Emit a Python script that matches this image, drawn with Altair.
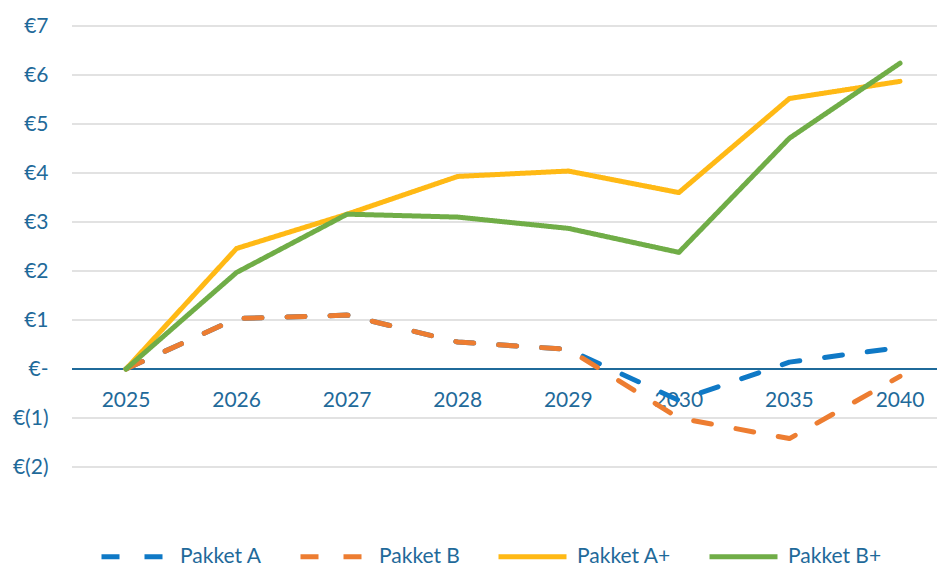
import altair as alt
import pandas as pd

years = ["2025", "2026", "2027", "2028", "2029", "2030", "2035", "2040"]
series_names = ["Pakket A", "Pakket B", "Pakket A+", "Pakket B+"]
pakket_a = [0.0, 1.03, 1.10, 0.55, 0.40, -0.64, 0.14, 0.44]
pakket_b = [0.0, 1.03, 1.10, 0.55, 0.40, -1.00, -1.42, -0.15]
pakket_a_plus = [0.0, 2.46, 3.16, 3.93, 4.04, 3.60, 5.52, 5.87]
pakket_b_plus = [0.0, 1.97, 3.16, 3.10, 2.87, 2.38, 4.71, 6.24]
y_ticks = [-2, -1, 0, 1, 2, 3, 4, 5, 6, 7]

colors = ["#0F79C6", "#ED7D31", "#FFB915", "#70AD47"]
dashes = [[18, 25], [18, 25], [1, 0], [1, 0]]
TEXT = "#1F6A9A"
FONT = "Lato"
FS = 21

rows = []
for name, vals in zip(series_names, [pakket_a, pakket_b, pakket_a_plus, pakket_b_plus]):
    for yr, v in zip(years, vals):
        rows.append({"jaar": yr, "waarde": v, "serie": name})
df = pd.DataFrame(rows)
df_years = pd.DataFrame({"jaar": years})
df_ticks = pd.DataFrame({"t": [t for t in y_ticks if t != 0]})

x_scale = alt.Scale(type="point", domain=years, range=[54, 828], padding=0)
y_scale = alt.Scale(domain=[-2, 7], nice=False)

label_expr = ("datum.value == 0 ? '€-' : (datum.value < 0 ? '€(' + abs(datum.value) + ')' : '€' + datum.value)")

grid = alt.Chart(df_ticks).mark_rule(color="#D9D9D9", strokeWidth=1.5).encode(
    x=alt.value(0), x2=alt.value(865),
    y=alt.Y("t:Q", scale=y_scale,
            axis=alt.Axis(values=y_ticks, labelExpr=label_expr, title=None,
                          domain=False, ticks=False, grid=False,
                          labelFont=FONT, labelFontSize=FS,
                          labelColor=TEXT, labelPadding=24)),
)

zero = alt.Chart(df_years).mark_rule(color=TEXT, strokeWidth=2).encode(
    x=alt.value(0), x2=alt.value(865), y=alt.Y("z:Q", scale=y_scale)
).transform_calculate(z="0")

labels = alt.Chart(df_years).mark_text(font=FONT, fontSize=FS, color=TEXT, dy=32, baseline="middle").encode(
    x=alt.X("jaar:O", scale=x_scale, axis=None),
    y=alt.Y("z:Q", scale=y_scale),
    text="jaar:N",
).transform_calculate(z="0")

leg = alt.Legend(title=None, orient="none", direction="horizontal",
                 legendX=27, legendY=494, symbolType="stroke",
                 symbolStrokeWidth=5, symbolSize=4624,
                 labelFont=FONT, labelFontSize=FS, labelColor=TEXT,
                 labelOffset=8, columnPadding=28, padding=0)

lines = alt.Chart(df).mark_line(strokeWidth=5, strokeCap="round", strokeJoin="round").encode(
    x=alt.X("jaar:O", scale=x_scale, axis=None),
    y=alt.Y("waarde:Q", scale=y_scale),
    color=alt.Color("serie:N", scale=alt.Scale(domain=series_names, range=colors), legend=leg),
    strokeDash=alt.StrokeDash("serie:N", scale=alt.Scale(domain=series_names, range=dashes), legend=leg),
    order=alt.Order("idx:Q"),
    detail="serie:N",
).transform_calculate(
    idx="indexof(['2025','2026','2027','2028','2029','2030','2035','2040'], datum.jaar)"
)

chart = alt.layer(grid, labels, zero, lines).properties(
    width=865, height=441,
    autosize=alt.AutoSizeParams(type="none"),
    padding={"left": 64, "top": 18, "right": 0, "bottom": 103},
).configure_view(stroke=None)

chart.save("out.html", embed_options={"renderer": "svg", "actions": False})
